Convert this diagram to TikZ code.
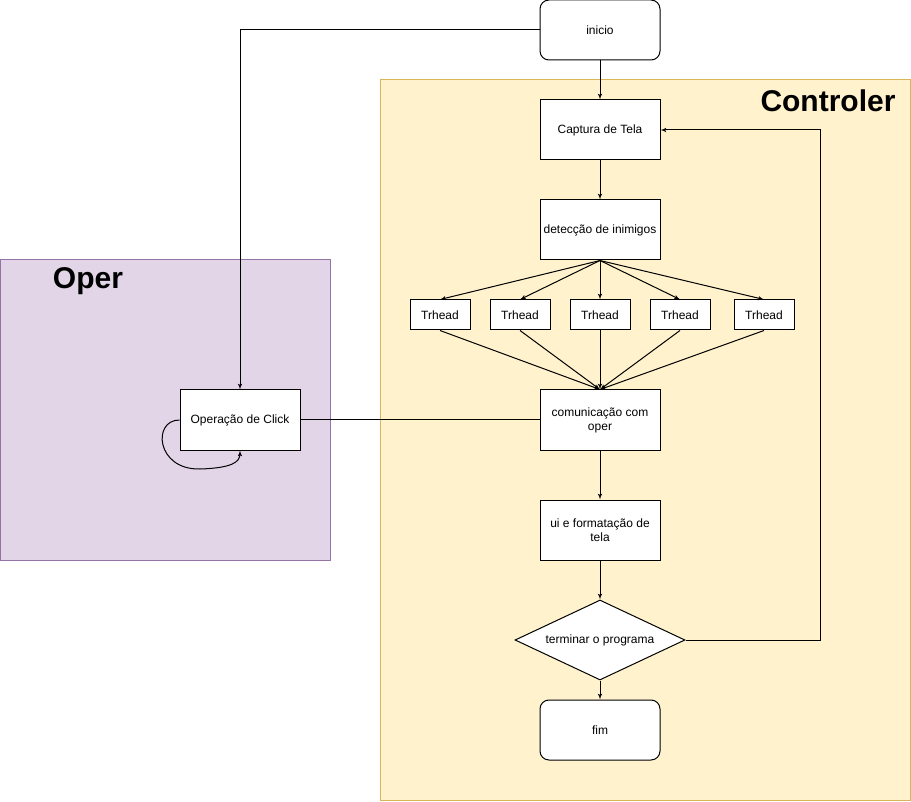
\documentclass[tikz,border=0pt]{standalone}
\usepackage{fontspec}
\setmainfont{Liberation Sans}
\usepackage{xcolor}
\usepackage{tikz}
\usetikzlibrary{arrows, positioning, shapes.geometric}

\definecolor{ctrlfill}{HTML}{FFF2CC}
\definecolor{ctrldraw}{HTML}{D6B656}
\definecolor{operfill}{HTML}{E1D5E7}
\definecolor{operdraw}{HTML}{9673A6}

\begin{document}
\begin{tikzpicture}[x=1pt,y=-1pt,line width=1pt]
    \tikzset{box/.style = {shape=rectangle,draw,fill=white,minimum width=120pt,minimum height=60pt,inner sep=0pt,align=center,font=\fontsize{12}{14}\selectfont}}
    \tikzset{term/.style = {box,rounded corners=9pt}}
    \tikzset{thread/.style = {box,minimum width=60pt,minimum height=30pt}}
    \tikzset{decision/.style = {shape=diamond,draw,fill=white,minimum width=170pt,minimum height=80pt,inner sep=0pt,aspect=2.125,font=\fontsize{12}{14}\selectfont}}
    \tikzset{title/.style = {font=\bfseries\fontsize{30}{34}\selectfont,inner sep=0pt}}
    \tikzset{edge/.style = {->,> = latex'}}
    \useasboundingbox (0,0) rectangle (911,802);
    % containers
    \node[draw=ctrldraw,fill=ctrlfill,minimum width=530pt,minimum height=720pt,inner sep=0pt] (ctrl) at (645,440) {};
    \node[draw=operdraw,fill=operfill,minimum width=330pt,minimum height=300pt,inner sep=0pt] (oper) at (165,410) {};
    \node[title] (ctrltitle) at (828,101) {Controler};
    \node[title] (opertitle) at (88,281) {Oper};
    % vertices
    \node[term] (inicio) at (600,30) {inicio};
    \node[box] (captura) at (600,130) {Captura de Tela};
    \node[box] (deteccao) at (600,230) {detecção de inimigos};
    \node[thread] (t1) at (440,315) {Trhead};
    \node[thread] (t2) at (520,315) {Trhead};
    \node[thread] (t3) at (600,315) {Trhead};
    \node[thread] (t4) at (680,315) {Trhead};
    \node[thread] (t5) at (764,315) {Trhead};
    \node[box] (comunic) at (600,420) {comunicação com\\oper};
    \node[box] (ui) at (600,530) {ui e formatação de\\tela};
    \node[decision] (terminar) at (600,640) {\makebox[0pt]{terminar o programa}};
    \node[term] (fim) at (600,730) {fim};
    \node[box] (click) at (240,420) {Operação de Click};
    %edges
    \draw[edge] (inicio) to (captura);
    \draw[edge] (inicio.west) -| (click.north);
    \draw[edge] (captura) to (deteccao);
    \foreach \t in {t1,t2,t3,t4,t5} {
        \draw[edge] (deteccao.south) to (\t.north);
        \draw[edge] (\t.south) to (comunic.north);
    }
    \draw (comunic.west) to (click.east);
    \draw[edge] (click.west) .. controls (152,420) and (156,470) .. (200,469) .. controls (232,468) and (240,462) .. (click.south);
    \draw[edge] (comunic) to (ui);
    \draw[edge] (ui) to (terminar);
    \draw[edge] (terminar) to (fim);
    \draw[edge] (terminar.east) -- (820,640) |- (captura.east);
\end{tikzpicture}
\end{document}
